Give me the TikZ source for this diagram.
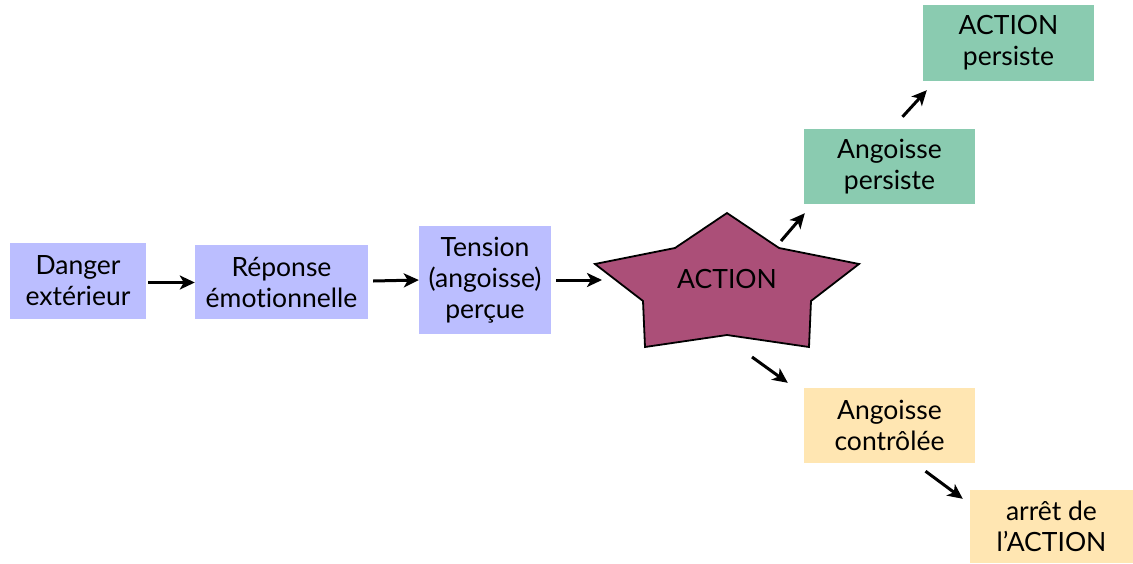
\documentclass[tikz,border=0pt]{standalone}
\usepackage{fontspec}
\setmainfont{Lato}[Ligatures=NoCommon]
\usetikzlibrary{arrows.meta}

\definecolor{bleuboite}{RGB}{187,190,255}
\definecolor{vertboite}{RGB}{138,203,176}
\definecolor{jauneboite}{RGB}{255,230,178}
\definecolor{etoilefond}{RGB}{171,79,120}

\begin{document}
\begin{tikzpicture}[x=1pt, y=-1pt,
    boite/.style={inner sep=0pt, align=center, font=\fontsize{26.5}{31}\selectfont},
    bleu/.style={boite, fill=bleuboite},
    vert/.style={boite, fill=vertboite},
    jaune/.style={boite, fill=jauneboite},
    fleche/.style={line width=3pt, -{Stealth[length=15pt, width=14pt, inset=4pt]}}]
    \useasboundingbox (0,0) rectangle (1133,563);

    % chaine de gauche
    \node[bleu, minimum width=136, minimum height=76] (danger) at (78,281) {Danger\\extérieur};
    \node[bleu, minimum width=173, minimum height=74] (reponse) at (281.5,282) {Réponse\\émotionnelle};
    \node[bleu, minimum width=132, minimum height=108] (tension) at (485,280) {Tension\\(angoisse)\\perçue};

    % etoile
    \draw[fill=etoilefond, line width=1.8pt, line join=miter]
        (727,213) -- (779,248) -- (859,264) -- (811,301) -- (809,347) -- (727,335)
        -- (645,347) -- (643,301) -- (595,264) -- (675,248) -- cycle;
    \node[boite] (action) at (727,279) {ACTION};

    % branche du haut
    \node[vert, minimum width=171, minimum height=75] (angpers) at (889.5,166.5) {Angoisse\\persiste};
    \node[vert, minimum width=171, minimum height=76] (actpers) at (1008.5,43) {ACTION\\persiste};

    % branche du bas
    \node[jaune, minimum width=171, minimum height=75] (angctrl) at (889.5,425.5) {Angoisse\\contrôlée};
    \node[jaune, minimum width=163, minimum height=73] (arret) at (1051.5,526.5) {arrêt de\\l’ACTION};

    % fleches
    \draw[fleche] ([shift={(2,1.5)}]danger.east) -- ([shift={(0,0.5)}]reponse.west);
    \draw[fleche] ([shift={(5,-1)}]reponse.east) -- (tension.west);
    \draw[fleche] ([shift={(5,0)}]tension.east) -- ([shift={(-125,1)}]action.center);
    \draw[fleche] ([shift={(54,-38)}]action.center) -- ([shift={(1,9)}]angpers.south west);
    \draw[fleche] ([shift={(13,-12)}]angpers.north) -- ([shift={(4,9)}]actpers.south west);
    \draw[fleche] ([shift={(25,78)}]action.center) -- ([shift={(-16,-5)}]angctrl.north west);
    \draw[fleche] ([shift={(36,8)}]angctrl.south) -- ([shift={(-7,9)}]arret.north west);
\end{tikzpicture}
\end{document}
